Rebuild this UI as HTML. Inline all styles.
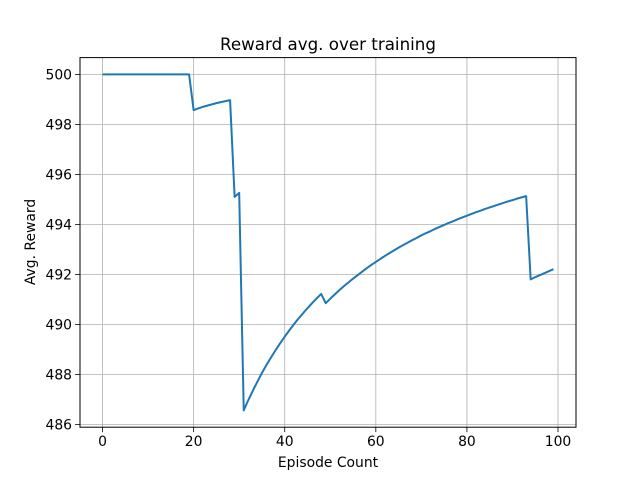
<!DOCTYPE html>
<html><head><meta charset="utf-8"><style>
html,body{margin:0;padding:0;background:#fff;}
svg{display:block;font-family:"DejaVu Sans","Liberation Sans",sans-serif;}
</style></head><body>
<svg id="chart" width="640" height="480" xmlns="http://www.w3.org/2000/svg">
<rect width="640" height="480" fill="#fff"/>
<g id="grid"></g>
<g id="ticks"></g>
<path id="line" fill="none" stroke="#1f77b4" stroke-width="2" stroke-linejoin="round"/>
<rect x="80" y="57.6" width="496" height="369.6" fill="none" stroke="#000" stroke-width="1"/>
<text x="328" y="50" font-size="16.7" text-anchor="middle">Reward avg. over training</text>
<text x="328" y="467" font-size="13.9" text-anchor="middle">Episode Count</text>
<text x="35" y="242" font-size="13.9" text-anchor="middle" transform="rotate(-90 35 242)">Avg. Reward</text>
</svg>
<script>
const rewards=[500,500,500,500,500,500,500,500,500,500,500,500,500,500,500,500,500,500,500,500,
498.57,498.64,498.70,498.75,498.80,498.85,498.89,498.93,498.97,495.10,
495.26,486.56,486.97,487.35,487.71,488.06,488.38,488.68,488.97,489.25,
489.51,489.76,490.00,490.23,490.44,490.65,490.85,491.04,491.22,490.85,
491.03,491.20,491.37,491.53,491.68,491.83,491.97,492.11,492.25,492.38,
492.50,492.62,492.74,492.85,492.96,493.07,493.17,493.27,493.37,493.46,
493.56,493.65,493.73,493.82,493.90,493.98,494.06,494.13,494.21,494.28,
494.35,494.42,494.49,494.55,494.62,494.68,494.74,494.80,494.86,494.92,
494.97,495.03,495.08,495.13,491.80,491.89,491.97,492.05,492.13,492.21];
const xTicks=[0,20,40,60,80,100];
const yTicks=[486,488,490,492,494,496,498,500];
const NS="http://www.w3.org/2000/svg";
const L=80,R=576,T=57.6,B=427.2;
const n=rewards.length;
const xMin=-(n-1)*0.05,xMax=(n-1)*1.05;
const yLo=Math.min(...rewards),yHi=Math.max(...rewards),pad=(yHi-yLo)*0.05;
const yMin=yLo-pad,yMax=yHi+pad;
const sx=v=>L+(v-xMin)/(xMax-xMin)*(R-L);
const sy=v=>B-(v-yMin)/(yMax-yMin)*(B-T);
const grid=document.getElementById('grid'),ticks=document.getElementById('ticks');
function mk(tag,attrs,parent){const e=document.createElementNS(NS,tag);for(const k in attrs)e.setAttribute(k,attrs[k]);parent.appendChild(e);return e;}
xTicks.forEach(v=>{const x=sx(v);
 const g=mk('line',{x1:x,x2:x,y1:T,y2:B,stroke:'#b0b0b0','stroke-width':0.8},grid);
 
 
 const t=mk('line',{x1:x,x2:x,y1:B,y2:B+4.9,stroke:'#000','stroke-width':0.8},ticks);
 
 
 const l=mk('text',{x:x,y:B+19,'font-size':13.9,'text-anchor':'middle'},ticks);l.textContent=v;
 
 
});
yTicks.forEach(v=>{const y=sy(v);
 const g=mk('line',{x1:L,x2:R,y1:y,y2:y,stroke:'#b0b0b0','stroke-width':0.8},grid);
 
 
 const t=mk('line',{x1:L-4.9,x2:L,y1:y,y2:y,stroke:'#000','stroke-width':0.8},ticks);
 
 
 const l=mk('text',{x:L-8,y:y+5,'font-size':13.9,'text-anchor':'end'},ticks);l.textContent=v;
 
 
});
document.getElementById('line').setAttribute('d',rewards.map((v,i)=>(i?'L':'M')+sx(i).toFixed(2)+','+sy(v).toFixed(2)).join(''));
</script>
</body></html>
